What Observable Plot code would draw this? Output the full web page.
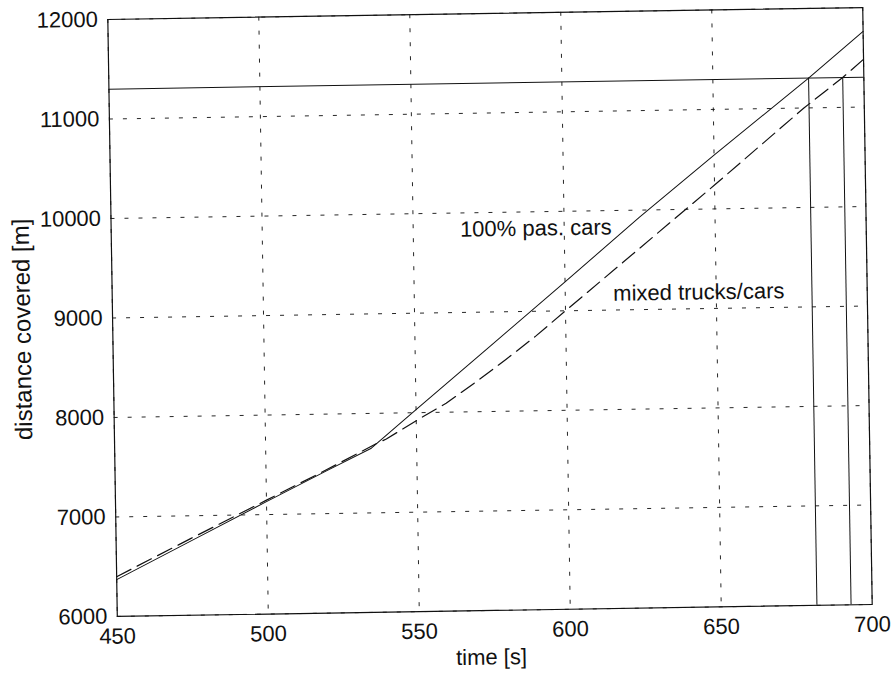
<!DOCTYPE html>
<html>
<head>
<meta charset="utf-8">
<script src="https://cdn.jsdelivr.net/npm/d3@7"></script>
<script src="https://cdn.jsdelivr.net/npm/@observablehq/plot@0.6"></script>
<style>
  html, body { margin: 0; padding: 0; background: #fff; }
  #chart { width: 893px; height: 675px; overflow: hidden; }
  #chart svg { transform: rotate(-0.91deg); transform-origin: 490px 311px; }
</style>
</head>
<body>
<div id="chart"></div>
<script>
// Distance covered over time: passenger cars only vs. mixed trucks/cars
const carsTime = [450, 475, 500, 520, 535, 550, 575, 600, 625, 650, 681.7, 700];
const carsDist = [6370, 6750, 7130, 7430, 7650, 8030, 8660, 9290, 9930, 10540, 11300, 11760];

const mixedTime = [450, 475, 500, 520, 537, 540, 550, 560, 570, 580, 590, 600, 625, 650, 680, 693, 700];
const mixedDist = [6400, 6775, 7145, 7440, 7700, 7740, 7920, 8090, 8300, 8520, 8750, 9000, 9620, 10240, 11000, 11300, 11480];

// Target distance and the arrival times of both runs
const targetDist = 11300;
const arrivalTimes = [681.7, 693];

const xTicks = [450, 500, 550, 600, 650, 700];
const yTicks = [6000, 7000, 8000, 9000, 10000, 11000, 12000];

const curveLabels = ["100% pas. cars", "mixed trucks/cars"];
const labelTime = [565.5, 615.9];
const labelDist = [9761, 9093];

const cars = carsTime.map((t, i) => ({t, d: carsDist[i]}));
const mixed = mixedTime.map((t, i) => ({t, d: mixedDist[i]}));
const labels = curveLabels.map((text, i) => ({text, t: labelTime[i], d: labelDist[i]}));

const font = "'Liberation Sans', Arial, Helvetica, sans-serif";
const ink = "#111";

const chart = Plot.plot({
  width: 893,
  height: 675,
  marginLeft: 112,
  marginRight: 26,
  marginTop: 13,
  marginBottom: 65,
  style: {fontFamily: font, fontSize: "22px", background: "white", color: ink},
  x: {domain: [450, 700]},
  y: {domain: [6000, 12000]},
  marks: [
    Plot.gridX(xTicks, {stroke: ink, strokeOpacity: 1, strokeWidth: 0.9, strokeDasharray: "4,10"}),
    Plot.gridY(yTicks, {stroke: ink, strokeOpacity: 1, strokeWidth: 0.9, strokeDasharray: "4,10"}),
    Plot.axisX(xTicks, {tickSize: 0, tickPadding: 11.5, label: null, fontSize: 22, tickFormat: d => String(d)}),
    Plot.axisY(yTicks, {tickSize: 0, tickPadding: 10, label: null, fontSize: 22, tickFormat: d => String(d)}),
    Plot.ruleY([targetDist], {stroke: ink, strokeWidth: 1}),
    Plot.ruleX(arrivalTimes, {y1: 6000, y2: targetDist, stroke: ink, strokeWidth: 1}),
    Plot.line(cars, {x: "t", y: "d", stroke: ink, strokeWidth: 1}),
    Plot.line(mixed, {x: "t", y: "d", stroke: ink, strokeWidth: 1.2, strokeDasharray: "16,7"}),
    Plot.text(labels, {x: "t", y: "d", text: "text", textAnchor: "start", lineAnchor: "bottom", fontSize: 22, fill: ink}),
    Plot.text(["time [s]"], {frameAnchor: "bottom", dx: -4, dy: 54, textAnchor: "middle", lineAnchor: "bottom", fontSize: 22, fill: ink}),
    Plot.text(["distance covered [m]"], {frameAnchor: "left", dx: -90, dy: 10, rotate: -90, textAnchor: "middle", lineAnchor: "middle", fontSize: 24, fill: ink}),
    Plot.frame({stroke: ink, strokeWidth: 1.2})
  ]
});

document.getElementById("chart").appendChild(chart);
</script>
</body>
</html>
